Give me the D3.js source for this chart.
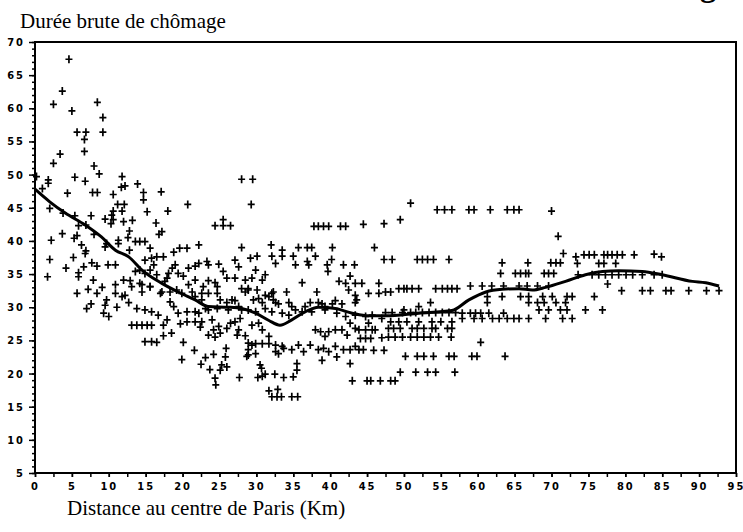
<!DOCTYPE html>
<html>
<head>
<meta charset="utf-8">
<script src="https://cdn.jsdelivr.net/npm/d3@7"></script>
<style>
body { margin: 0; background: #fff; }
.tick text { font-family: "DejaVu Sans Condensed", "DejaVu Sans", sans-serif; font-weight: bold; font-size: 11px; letter-spacing: 2px; }
</style>
</head>
<body>
<div id="chart"></div>
<script>
// tick labels
var xTicks = [0,5,10,15,20,25,30,35,40,45,50,55,60,65,70,75,80,85,90,95];
var yTicks = [5,10,15,20,25,30,35,40,45,50,55,60,65,70];

// scatter: [distance (km), duree brute]
var points = [
 [4.6,67.4],[3.7,62.6],[2.5,60.6],[8.45,60.9],[5.0,59.6],[9.2,58.6],[5.7,56.4],[6.9,56.4],[6.7,55.3],[9.2,56.4],
 [6.7,53.5],[3.4,53.1],[2.5,51.7],[8.0,51.3],[8.7,50.1],[0.2,49.7],[1.8,49.2],[1.8,48.7],[1.0,47.9],[5.4,49.6],
 [6.8,49.0],[11.8,49.7],[12.2,48.3],[11.7,48.1],[13.9,48.6],[4.4,47.2],[7.8,47.3],[8.45,47.3],[10.6,47.0],[14.7,47.3],
 [14.7,46.2],[17.1,47.4],[20.7,45.5],[28.0,49.3],[29.5,49.3],[29.3,45.5],[2.0,44.9],[11.2,45.5],[12.1,45.5],[11.8,44.5],
 [10.6,44.5],[15.2,44.4],[18.0,44.5],[3.8,44.2],[5.4,43.8],[7.6,43.8],[9.5,43.3],[10.4,43.9],[10.6,43.2],[10.3,42.6],
 [12.0,42.9],[13.2,43.1],[16.4,42.7],[24.4,42.3],[25.5,43.2],[25.5,42.3],[26.5,42.3],[37.8,42.2],[38.4,42.2],[39.1,42.2],
 [39.8,42.2],[41.4,42.2],[42.1,42.2],[44.5,42.5],[47.3,42.6],[2.2,40.1],[3.7,41.1],[5.3,40.4],[5.7,40.8],[6.3,39.4],
 [6.9,38.5],[8.0,41.0],[6.9,42.4],[5.9,42.3],[12.8,41.5],[12.6,40.5],[13.6,39.9],[14.2,39.9],[14.9,39.9],[15.6,38.9],
 [17.2,41.4],[16.8,41.0],[11.3,40.1],[11.3,39.6],[9.5,39.1],[9.7,39.6],[12.8,38.6],[22.2,39.4],[20.6,38.9],[19.6,38.9],
 [18.8,38.3],[28.0,39.0],[32.0,39.4],[33.5,38.6],[35.7,39.0],[36.9,39.0],[37.5,39.0],[40.3,39.0],[46.0,39.0],
 [49.5,43.2],[50.9,45.7],[54.5,44.7],[55.5,44.7],[56.5,44.7],[58.8,44.7],[59.5,44.7],[61.7,44.7],[64.0,44.7],[64.9,44.7],
 [65.6,44.7],[70.0,44.5],[70.9,40.7],
 [2.0,37.2],[1.7,34.6],[5.2,37.5],[6.8,38.1],[4.2,35.9],[5.9,35.2],[5.9,34.6],[6.6,36.1],[7.7,36.7],[8.4,36.2],
 [9.9,36.4],[10.9,36.4],[7.9,34.1],[7.2,32.7],[8.4,32.1],[9.1,33.0],[5.7,32.1],[7.0,29.8],[7.6,30.5],[9.5,30.3],
 [9.7,31.1],[9.3,29.1],[10.0,28.6],[11.1,30.0],[10.9,33.4],[12.0,34.1],[12.9,34.0],[12.2,31.8],[13.1,33.1],[14.5,33.4],
 [15.6,33.1],[14.5,32.3],[10.9,32.1],[11.8,31.6],[12.7,30.7],[13.8,29.8],[14.9,29.6],[15.8,29.3],[16.7,28.8],[17.9,28.1],
 [17.4,27.3],[13.1,27.3],[13.8,27.3],[14.5,27.3],[15.2,27.3],[15.8,27.3],[14.9,24.8],[15.8,24.8],[16.5,24.7],[17.4,25.7],
 [18.5,26.1],[19.9,22.1],[20.1,24.7],[21.6,23.5],[22.5,21.4],[23.1,22.4],[24.2,22.9],[23.7,20.6],[24.4,19.3],[24.5,18.3],
 [25.3,21.3],[25.1,20.5],[25.9,23.8],[26.0,21.0],[25.8,22.5],[27.7,19.4],[28.7,22.6],[28.9,23.6],[29.4,24.3],[30.2,19.4],
 [30.8,19.6],[31.2,19.9],[30.5,21.3],[30.7,20.8],[32.5,19.9],[33.7,19.4],[35.0,19.5],[35.5,21.5],[35.5,20.5],[31.7,17.4],
 [32.9,17.6],[32.1,16.5],[32.8,16.5],[33.4,16.5],[34.8,16.5],[35.6,16.5],
 [19.4,35.1],[20.1,34.7],[20.8,35.9],[21.7,36.2],[22.2,36.6],[23.3,36.9],[23.5,36.4],[24.9,36.5],[14.9,37.1],[15.8,37.4],
 [16.5,37.6],[17.4,37.6],[16.1,36.4],[15.6,35.6],[18.1,35.1],[18.6,35.9],[19.0,36.4],[13.6,35.4],[14.2,35.6],[14.9,35.1],
 [16.5,34.9],[17.9,34.4],[17.6,33.9],[17.2,32.3],[17.0,32.1],[18.3,32.3],[14.2,33.6],[15.6,33.1],[19.2,32.6],[19.9,32.1],
 [21.3,32.3],[21.7,31.6],[22.8,33.1],[22.6,32.1],[23.5,32.1],[24.7,32.1],[24.7,33.1],[21.7,34.1],[23.5,34.0],[24.4,33.7],
 [18.3,30.8],[18.8,30.1],[19.4,29.1],[20.6,29.3],[21.7,29.3],[22.2,29.1],[23.1,29.8],[23.5,29.6],[24.7,29.8],[25.1,31.1],
 [26.0,30.7],[26.7,31.1],[27.1,31.0],[27.6,30.1],[28.0,29.6],[28.5,32.3],[28.9,32.8],[29.6,31.1],[30.3,31.3],[30.8,30.7],
 [31.2,29.8],[31.7,31.6],[32.1,32.1],[32.3,31.1],[32.6,30.7],[33.0,30.5],[34.1,32.3],[34.4,30.7],[34.8,30.1],[35.3,29.6],
 [36.2,29.3],[36.6,30.1],[37.3,30.7],[38.2,32.3],[38.4,30.7],[38.9,30.5],[39.3,30.1],[40.3,30.5],[40.7,31.0],[40.9,29.1],
 [41.6,30.5],[42.1,28.6],[43.4,30.7],[43.6,31.1],
 [29.2,37.4],[30.1,37.7],[32.1,37.7],[32.6,36.6],[33.5,37.7],[35.0,37.7],[35.3,36.4],[36.9,36.9],[37.1,36.4],[38.0,37.7],
 [39.6,36.4],[40.2,37.2],[39.7,35.4],[41.8,36.4],[43.3,36.4],[42.7,34.7],[41.2,33.9],[42.1,33.6],[43.4,33.6],[44.3,33.6],
 [46.6,33.6],[47.3,37.2],[36.2,33.7],[42.5,32.6],[43.4,31.8],[45.2,32.1],[46.6,32.1],[29.9,35.6],[31.2,34.9],[29.4,34.4],
 [30.8,34.1],[28.5,34.1],[27.1,34.4],[26.0,34.4],[27.1,37.1],[27.6,36.1],[25.5,35.4],[28.0,32.8],[28.9,32.6],[30.1,32.6],
 [32.3,32.3],[31.2,31.8],
 [19.7,27.5],[20.6,27.8],[21.7,27.8],[22.6,27.8],[22.4,27.0],[24.0,28.1],[24.2,26.6],[24.9,27.1],[23.5,25.8],[24.4,25.5],
 [25.1,26.1],[26.0,26.8],[26.5,27.6],[27.1,27.8],[27.8,28.3],[27.6,26.6],[27.4,25.8],[28.5,25.7],[29.4,27.3],[30.3,27.6],
 [30.8,26.6],[31.7,25.6],[28.9,24.6],[29.9,24.5],[30.8,24.5],[31.7,24.5],[32.6,24.3],[33.5,24.1],[32.6,23.3],[33.0,23.0],
 [33.7,23.8],[34.8,23.6],[35.7,24.3],[36.4,23.3],[37.3,24.3],[38.0,26.6],[38.7,26.3],[39.3,25.6],[39.8,26.3],[40.7,26.6],
 [41.6,26.6],[42.3,25.8],[42.7,27.6],[43.4,26.8],[44.1,25.3],[44.8,25.3],[45.5,25.3],[46.1,26.6],[47.0,25.4],[38.4,23.6],
 [39.1,23.8],[39.8,23.3],[40.7,24.1],[40.9,22.5],[41.8,23.6],[42.7,23.6],[43.4,24.1],[43.9,23.6],[44.5,23.6],[45.9,23.5],
 [47.3,23.5],[38.9,22.0],[42.7,21.5],[28.9,22.8],[29.9,23.0],[43.0,18.9],[45.0,18.9],[45.5,18.9],[46.8,18.9],
 [20.8,33.4],[22.6,31.1],[26.2,29.6],[28.9,29.6],[29.9,29.3],[32.1,29.3],[33.5,29.1],[34.4,28.8],[37.5,29.3],[39.3,29.6],
 [43.4,28.8],[44.8,28.6],[45.7,28.8],[47.0,28.3],[45.2,27.6],[45.7,26.6],[44.8,26.6],[43.9,26.6],
 [71.6,38.1],[73.3,37.6],[74.4,37.9],[75.1,37.9],[75.8,37.9],[77.1,37.9],[77.6,37.9],[78.2,37.9],[78.9,37.9],[79.6,37.9],
 [81.2,37.9],[83.9,38.0],[84.9,37.6],[73.5,36.6],[76.4,36.6],[77.1,36.6],[78.7,36.6],[63.3,36.7],[66.8,36.7],[69.9,36.7],
 [70.6,36.7],[71.2,36.7],[48.4,37.2],[51.8,37.2],[52.5,37.2],[53.2,37.2],[54.0,37.2],[56.1,37.2],
 [63.1,35.1],[65.1,35.1],[65.8,35.1],[66.5,35.1],[66.9,35.1],[69.0,35.1],[69.6,35.1],[70.3,35.1],[73.6,34.9],[75.5,34.9],
 [76.4,34.9],[77.3,34.9],[78.2,34.9],[79.1,34.9],[80.1,34.9],[81.0,34.9],[82.3,34.9],[83.9,34.9],[85.0,34.9],[77.6,33.5],
 [79.5,32.5],[82.3,32.5],[83.4,32.5],[85.5,32.5],[86.2,32.5],[88.6,32.5],[91.0,32.5],[92.7,32.5],
 [47.5,32.3],[48.2,32.3],[49.3,32.8],[50.0,32.8],[50.4,32.8],[51.1,32.8],[52.0,32.8],[54.3,32.8],[55.2,32.8],[55.9,32.8],
 [56.5,32.8],[57.2,32.8],[59.0,33.2],[60.6,33.2],[61.9,33.2],[63.5,33.2],[65.6,33.2],[66.7,33.2],[68.1,33.2],[69.6,33.2],
 [61.3,31.6],[61.3,30.7],[63.3,31.6],[65.8,31.6],[66.9,31.6],[68.8,31.6],[70.1,31.6],[72.1,31.6],[72.8,31.6],[75.8,31.6],
 [66.9,30.7],[68.1,30.7],[69.0,30.7],[70.6,30.7],[71.9,30.7],[53.6,30.7],[52.0,30.1],[50.0,29.6],
 [68.3,29.6],[69.6,29.6],[71.2,29.6],[72.1,29.6],[74.6,29.6],[76.9,29.6],
 [47.5,29.2],[48.4,29.2],[49.8,29.2],[50.9,29.2],[51.6,29.2],[52.5,29.2],[53.4,29.2],[54.3,29.2],[55.2,29.2],[56.1,29.2],
 [57.0,29.2],[57.9,29.1],[59.0,29.1],[59.7,29.1],[60.4,29.1],[61.5,29.1],[63.5,29.1],
 [57.9,28.3],[59.5,28.3],[60.6,28.3],[62.0,28.3],[62.9,28.3],[64.0,28.3],[64.9,28.3],[65.6,28.3],[66.9,28.3],[69.2,28.3],
 [71.5,28.3],[72.8,28.3],[48.2,27.8],[49.3,27.8],[50.4,27.8],[52.0,27.8],[53.8,27.8],[55.0,27.8],[56.5,27.8],
 [47.9,26.8],[48.6,26.8],[49.5,26.8],[51.1,26.8],[51.8,26.8],[52.7,26.8],[53.8,26.8],[54.3,26.8],[55.9,26.8],[56.5,26.8],
 [47.9,25.5],[48.8,25.5],[49.8,25.5],[50.9,25.5],[51.8,25.5],[52.7,25.5],[53.6,25.5],[54.7,25.5],[56.4,25.5],[60.4,24.7],
 [50.2,22.6],[51.8,22.6],[52.7,22.6],[54.0,22.6],[56.1,22.6],[56.8,22.6],[59.2,22.6],[59.9,22.6],[63.7,22.6],
 [49.5,20.2],[51.6,20.2],[53.2,20.2],[54.3,20.2],[56.9,20.2],[48.2,18.9],[48.8,18.9]
];

// smoothed curve
var curveDist = [0,2,4.1,6.8,9.0,10.9,12.7,14.5,17.2,19.4,21.7,23.5,26.2,28.0,29.9,31.7,33.2,34.8,36.6,38.4,40.7,43.0,45.2,47.5,52.0,56.5,58.8,61.1,63.3,65.6,67.4,69.2,71.9,74.6,76.9,79.1,82.3,85.0,89.1,90.9,92.7];
var curveVal  = [47.8,45.9,44.2,42.4,40.6,38.6,37.6,35.6,33.6,32.3,31.1,30.1,30.0,29.8,29.1,28.0,27.3,28.1,29.3,30.0,29.8,29.1,28.7,28.7,29.1,29.5,31.1,32.3,32.7,32.8,32.6,33.0,33.9,34.9,35.4,35.5,35.4,34.9,33.9,33.7,33.2];

var W = 743, H = 532;
var pLeft = 35, pRight = 736, pTop = 42, pBottom = 473;

var svg = d3.select("#chart").append("svg")
    .attr("width", W)
    .attr("height", H);

var x = d3.scaleLinear().domain([0, 95]).range([pLeft, pRight]);
var y = d3.scaleLinear().domain([5, 70]).range([pBottom, pTop]);

// minor ticks
svg.append("g")
    .attr("transform", "translate(" + pLeft + ",0)")
    .call(d3.axisLeft(y).tickValues(d3.range(5, 71, 1)).tickSize(3).tickFormat(""))
    .call(function(g){ g.select(".domain").remove(); });
svg.append("g")
    .attr("transform", "translate(0," + pBottom + ")")
    .call(d3.axisBottom(x).tickValues(d3.range(0, 96, 2.5)).tickSize(4).tickFormat(""))
    .call(function(g){ g.select(".domain").remove(); });

// major ticks
svg.append("g")
    .attr("class", "y-axis")
    .attr("transform", "translate(" + pLeft + ",0)")
    .call(d3.axisLeft(y).tickValues(yTicks).tickSize(6).tickPadding(4))
    .call(function(g){ g.select(".domain").remove(); });
svg.append("g")
    .attr("class", "x-axis")
    .attr("transform", "translate(0," + pBottom + ")")
    .call(d3.axisBottom(x).tickValues(xTicks).tickSize(4).tickPadding(5))
    .call(function(g){ g.select(".domain").remove(); });

svg.selectAll(".tick line").attr("stroke", "#000").attr("stroke-width", 1.5);
svg.selectAll(".tick text").attr("fill", "#000");

// frame
svg.append("rect")
    .attr("x", pLeft).attr("y", pTop)
    .attr("width", pRight - pLeft).attr("height", pBottom - pTop)
    .attr("fill", "none").attr("stroke", "#000").attr("stroke-width", 2);

// points
svg.append("g").selectAll("path")
    .data(points)
    .enter().append("path")
    .attr("transform", function(d){ return "translate(" + x(d[0]) + "," + y(d[1]) + ")"; })
    .attr("d", "M-3.5,0H3.5M0,-4V4")
    .attr("stroke", "#000")
    .attr("stroke-width", 1.7)
    .attr("fill", "none");

// curve
var line = d3.line()
    .x(function(d, i){ return x(curveDist[i]); })
    .y(function(d){ return y(d); })
    .curve(d3.curveMonotoneX);
svg.append("path")
    .attr("d", line(curveVal))
    .attr("fill", "none")
    .attr("stroke", "#000")
    .attr("stroke-width", 3);

// titles
svg.append("text")
    .attr("x", 20).attr("y", 28)
    .attr("font-family", "Liberation Serif, Times New Roman, serif")
    .attr("font-size", 21)
    .text("Durée brute de chômage");
svg.append("text")
    .attr("x", 67).attr("y", 515)
    .attr("font-family", "Liberation Serif, Times New Roman, serif")
    .attr("font-size", 21)
    .text("Distance au centre de Paris (Km)");
// cut-off glyph at top right
svg.append("text")
    .attr("x", 700).attr("y", -4)
    .attr("font-family", "Liberation Serif, Times New Roman, serif")
    .attr("font-weight", "bold")
    .attr("font-size", 32)
    .text("g");
</script>
</body>
</html>
